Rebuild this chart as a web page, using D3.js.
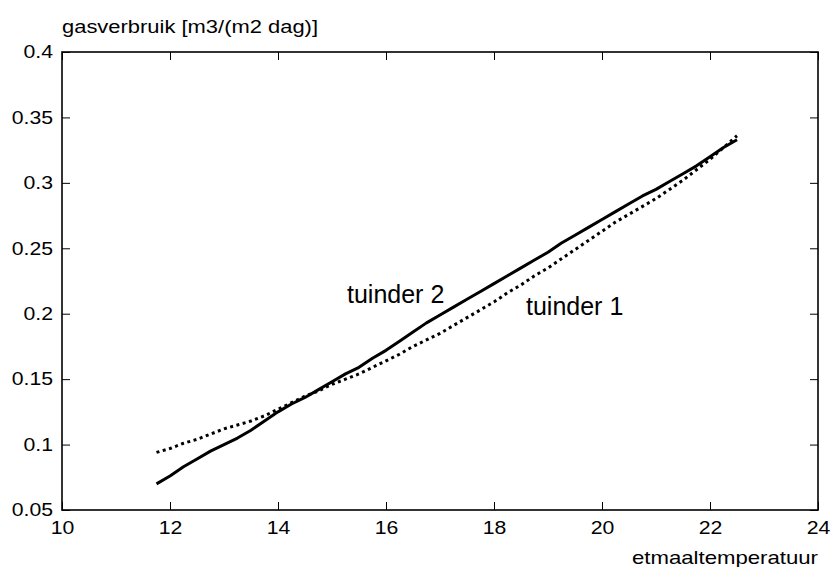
<!DOCTYPE html>
<html>
<head>
<meta charset="utf-8">
<script src="https://cdn.jsdelivr.net/npm/d3@7"></script>
<style>
  html, body { margin: 0; padding: 0; background: #fff; }
  svg { display: block; font-family: "Liberation Sans", Arial, sans-serif; }
</style>
</head>
<body>
<svg id="chart" width="832" height="567"></svg>
<script>
// Daily mean temperature (deg C)
const temps = [11.75, 12, 12.25, 12.5, 12.75, 13, 13.25, 13.5, 13.75, 14, 14.25, 14.5,
  14.75, 15, 15.25, 15.5, 15.75, 16, 16.25, 16.5, 16.75, 17, 17.25, 17.5, 17.75, 18,
  18.25, 18.5, 18.75, 19, 19.25, 19.5, 19.75, 20, 20.25, 20.5, 20.75, 21, 21.25, 21.5,
  21.75, 22, 22.25, 22.5];

// Gas use per grower [m3/(m2 day)]
const tuinder1 = [0.094, 0.097, 0.101, 0.104, 0.108, 0.112, 0.115, 0.118, 0.122, 0.127,
  0.132, 0.137, 0.141, 0.146, 0.150, 0.154, 0.159, 0.164, 0.169, 0.175, 0.180, 0.185,
  0.191, 0.197, 0.203, 0.209, 0.216, 0.222, 0.229, 0.235, 0.242, 0.249, 0.256, 0.263,
  0.270, 0.276, 0.282, 0.288, 0.295, 0.302, 0.310, 0.318, 0.327, 0.336];

const tuinder2 = [0.070, 0.076, 0.083, 0.089, 0.095, 0.100, 0.105, 0.111, 0.118, 0.125,
  0.131, 0.136, 0.142, 0.148, 0.154, 0.159, 0.166, 0.172, 0.179, 0.186, 0.193, 0.199,
  0.205, 0.211, 0.217, 0.223, 0.229, 0.235, 0.241, 0.247, 0.254, 0.260, 0.266, 0.272,
  0.278, 0.284, 0.290, 0.295, 0.301, 0.307, 0.313, 0.320, 0.327, 0.333];

const xTicks = [10, 12, 14, 16, 18, 20, 22, 24];
const yTicks = [0.05, 0.1, 0.15, 0.2, 0.25, 0.3, 0.35, 0.4];

const yTitle = "gasverbruik [m3/(m2 dag)]";
const xTitle = "etmaaltemperatuur";
const seriesLabels = ["tuinder 1", "tuinder 2"];

const svg = d3.select("#chart");
const plotL = 62, plotR = 818, plotT = 52, plotB = 510;

const x = d3.scaleLinear().domain([10, 24]).range([plotL, plotR]);
const y = d3.scaleLinear().domain([0.05, 0.4]).range([plotB, plotT]);

const fmt = d => String(+d.toFixed(2));
const stretch = 1.18;

// bottom axis with inward ticks and labels
const gx = svg.append("g").attr("transform", `translate(0,${plotB})`)
  .call(d3.axisBottom(x).tickValues(xTicks).tickSizeInner(-8).tickSizeOuter(0)
    .tickPadding(11).tickFormat(fmt));
// left axis
const gy = svg.append("g").attr("transform", `translate(${plotL},0)`)
  .call(d3.axisLeft(y).tickValues(yTicks).tickSizeInner(-8).tickSizeOuter(0)
    .tickPadding(9).tickFormat(fmt));
// top and right axes: ticks only
const gt = svg.append("g").attr("transform", `translate(0,${plotT})`)
  .call(d3.axisTop(x).tickValues(xTicks).tickSizeInner(-8).tickSizeOuter(0).tickFormat(""));
const gr = svg.append("g").attr("transform", `translate(${plotR},0)`)
  .call(d3.axisRight(y).tickValues(yTicks).tickSizeInner(-8).tickSizeOuter(0).tickFormat(""));

[gx, gy, gt, gr].forEach(g => {
  g.select(".domain").remove();
  g.selectAll(".tick line").attr("stroke", "#000").attr("stroke-width", 1);
});

gx.selectAll(".tick text")
  .attr("font-size", 18).attr("fill", "#000")
  .attr("font-family", "Liberation Sans, Arial, sans-serif")
  .attr("transform", `scale(${stretch},1)`);

gy.selectAll(".tick text")
  .attr("font-size", 18).attr("fill", "#000")
  .attr("font-family", "Liberation Sans, Arial, sans-serif")
  .attr("x", -9 / stretch)
  .attr("transform", `scale(${stretch},1)`);

// frame
svg.append("rect")
  .attr("x", plotL).attr("y", plotT)
  .attr("width", plotR - plotL).attr("height", plotB - plotT)
  .attr("fill", "none").attr("stroke", "#000").attr("stroke-width", 1.6);

const line = d3.line().x((d, i) => x(temps[i])).y(d => y(d));

svg.append("path").datum(tuinder1)
  .attr("d", line).attr("fill", "none").attr("stroke", "#000")
  .attr("stroke-width", 3).attr("stroke-dasharray", "3,3.5");

svg.append("path").datum(tuinder2)
  .attr("d", line).attr("fill", "none").attr("stroke", "#000")
  .attr("stroke-width", 3).attr("stroke-linejoin", "round");

// series labels
svg.append("text").attr("x", 347).attr("y", 303).attr("font-size", 25)
  .attr("fill", "#000").text(seriesLabels[1]);
svg.append("text").attr("x", 526).attr("y", 315).attr("font-size", 25)
  .attr("fill", "#000").text(seriesLabels[0]);

// axis titles
svg.append("text").attr("x", 62).attr("y", 33).attr("font-size", 17.5)
  .attr("textLength", 256).attr("lengthAdjust", "spacingAndGlyphs")
  .attr("fill", "#000").text(yTitle);
svg.append("text").attr("x", 632).attr("y", 564).attr("font-size", 18.5)
  .attr("textLength", 186).attr("lengthAdjust", "spacingAndGlyphs")
  .attr("fill", "#000").text(xTitle);
</script>
</body>
</html>
